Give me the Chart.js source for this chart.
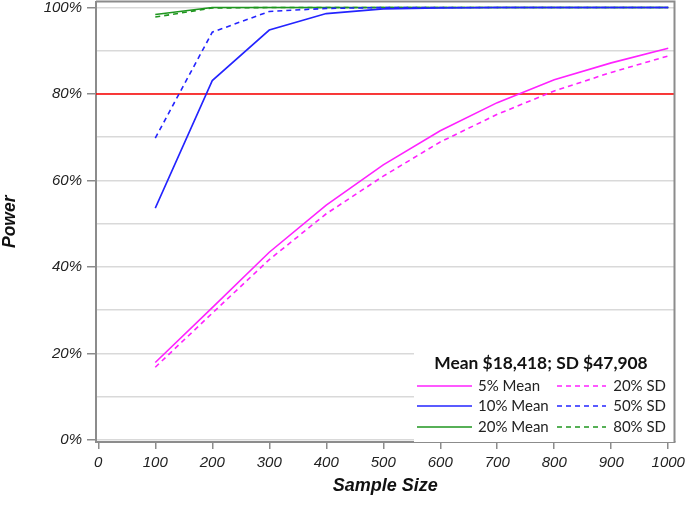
<!DOCTYPE html>
<html>
<head>
<meta charset="utf-8">
<script src="https://cdn.jsdelivr.net/npm/chart.js@4.4.1/dist/chart.umd.min.js"></script>
<style>
    html, body { margin: 0; padding: 0; background: #fff; }
    #wrap { width: 688px; height: 509px; }
</style>
</head>
<body>
<div id="wrap"><canvas id="powerChart" width="688" height="509"></canvas></div>
<script>
// 데이터
const sampleSizes = [100, 200, 300, 400, 500, 600, 700, 800, 900, 1000];
const mean5 = [17.9, 30.6, 43.4, 54.3, 63.6, 71.5, 78.0, 83.3, 87.2, 90.6];
const sd20 = [16.8, 29.3, 41.7, 52.3, 61.0, 68.9, 75.3, 80.7, 85.0, 88.8];
const mean10 = [53.6, 83.1, 94.8, 98.6, 99.7, 99.9, 100, 100, 100, 100];
const sd50 = [69.8, 94.3, 99.1, 99.8, 100, 100, 100, 100, 100, 100];
const mean20 = [98.4, 100, 100, 100, 100, 100, 100, 100, 100, 100];
const sd80 = [97.8, 99.9, 100, 100, 100, 100, 100, 100, 100, 100];
const xTickValues = [0, 100, 200, 300, 400, 500, 600, 700, 800, 900, 1000];
const yTickValues = [0, 10, 20, 30, 40, 50, 60, 70, 80, 90, 100];
const targetPower = 80;
const legendTitle = "Mean $18,418; SD $47,908";

function toPoints(ys) {
    return ys.map(function(y, i) { return {x: sampleSizes[i], y: y}; });
}

const MAGENTA = '#ff22ff', BLUE = '#2424ff', GREEN = '#1f961f';
const DASH = [5, 4];

function series(label, ys, color, dashed) {
    return {
        label: label,
        data: toPoints(ys),
        borderColor: color,
        backgroundColor: color,
        borderWidth: 1.6,
        borderDash: dashed ? DASH : [],
        pointRadius: 0,
        fill: false,
        tension: 0,
    };
}

// 목표 검정력 (80%) 빨간 선
const targetLine = {
    id: 'targetLine',
    beforeDatasetsDraw(chart) {
        const {ctx, chartArea, scales} = chart;
        const y = scales.y.getPixelForValue(targetPower);
        ctx.save();
        ctx.strokeStyle = '#ff0000';
        ctx.lineWidth = 1.6;
        ctx.beginPath();
        ctx.moveTo(chartArea.left, y);
        ctx.lineTo(chartArea.right, y);
        ctx.stroke();
        ctx.restore();
    }
};

// 범례 박스 (오른쪽 아래, 2열)
const insetLegend = {
    id: 'insetLegend',
    afterDatasetsDraw(chart) {
        const {ctx, chartArea} = chart;
        const ds = chart.data.datasets;
        const left = 414, top = 340;
        ctx.save();
        ctx.fillStyle = '#fff';
        ctx.fillRect(left, top, chartArea.right - left, chartArea.bottom - top);

        ctx.fillStyle = '#111';
        ctx.font = 'bold 17.4px Lato';
        ctx.textAlign = 'center';
        ctx.textBaseline = 'middle';
        ctx.fillText(legendTitle, 541, 363);

        ctx.font = '15px Lato';
        const rows = [386, 406, 427];
        for (let r = 0; r < 3; r++) {
            const solid = ds[r * 2], dashed = ds[r * 2 + 1];
            const y = rows[r];
            ctx.lineWidth = 1.6;

            ctx.strokeStyle = solid.borderColor;
            ctx.setLineDash([]);
            ctx.beginPath();
            ctx.moveTo(417, y); ctx.lineTo(472, y);
            ctx.stroke();
            ctx.textAlign = 'left';
            ctx.fillStyle = '#222';
            ctx.fillText(solid.label, 478, y);

            ctx.strokeStyle = dashed.borderColor;
            ctx.setLineDash(DASH);
            ctx.beginPath();
            ctx.moveTo(557, y); ctx.lineTo(606, y);
            ctx.stroke();
            ctx.textAlign = 'right';
            ctx.fillText(dashed.label, 666, y);
        }
        ctx.restore();
    }
};

// 위쪽/오른쪽 테두리
const frame = {
    id: 'frame',
    afterDraw(chart) {
        const {ctx, chartArea} = chart;
        ctx.save();
        ctx.strokeStyle = '#8c8c8c';
        ctx.lineWidth = 2;
        ctx.beginPath();
        ctx.moveTo(chartArea.left, chartArea.top);
        ctx.lineTo(chartArea.right, chartArea.top);
        ctx.lineTo(chartArea.right, chartArea.bottom);
        ctx.stroke();
        ctx.restore();
    }
};

const tickFont = {family: 'Liberation Sans', size: 15, style: 'italic'};

const ctx = document.getElementById('powerChart').getContext('2d');
const chart = new Chart(ctx, {
    type: 'line',
    data: {
        datasets: [
            series('5% Mean', mean5, MAGENTA, false),
            series('20% SD', sd20, MAGENTA, true),
            series('10% Mean', mean10, BLUE, false),
            series('50% SD', sd50, BLUE, true),
            series('20% Mean', mean20, GREEN, false),
            series('80% SD', sd80, GREEN, true),
        ]
    },
    options: {
        responsive: false,
        animation: false,
        layout: { padding: {top: 1.5, right: 13.5, left: 0, bottom: 0} },
        scales: {
            x: {
                type: 'linear',
                min: -4,
                max: 1011,
                afterBuildTicks: function(scale) {
                    scale.ticks = xTickValues.map(function(v) { return {value: v}; });
                },
                afterFit: function(scale) {
                    scale.height = 67;
                    scale.paddingLeft = 0;
                    scale.paddingRight = 0;
                },
                grid: {
                    drawOnChartArea: false,
                    color: '#8c8c8c',
                    tickLength: 7,
                    lineWidth: 1.5,
                },
                border: { color: '#8c8c8c', width: 2 },
                ticks: {
                    font: tickFont,
                    color: '#222',
                    padding: 5,
                    maxRotation: 0,
                    autoSkip: false,
                    callback: function(v) { return String(v); }
                },
                title: {
                    display: true,
                    text: 'Sample Size',
                    font: {family: 'Liberation Sans', size: 18, style: 'italic', weight: 'bold'},
                    color: '#111',
                    padding: {top: 4, bottom: 12},
                }
            },
            y: {
                min: -0.5,
                max: 101.4,
                afterBuildTicks: function(scale) {
                    scale.ticks = yTickValues.map(function(v) { return {value: v}; });
                },
                afterFit: function(scale) {
                    scale.width = 96;
                    scale.paddingTop = 0;
                    scale.paddingBottom = 0;
                },
                grid: {
                    color: '#d9d9d9',
                    lineWidth: 1.5,
                    tickLength: 9,
                    tickColor: function(c) {
                        return c.tick && c.tick.value % 20 === 0 ? '#8c8c8c' : 'rgba(0,0,0,0)';
                    },
                    tickWidth: 1.5,
                },
                border: { color: '#8c8c8c', width: 2 },
                ticks: {
                    font: tickFont,
                    color: '#222',
                    padding: 5,
                    autoSkip: false,
                    callback: function(v) { return v % 20 === 0 ? v + '%' : ''; }
                },
                title: {
                    display: true,
                    text: 'Power',
                    font: {family: 'Liberation Sans', size: 17.5, style: 'italic', weight: 'bold'},
                    color: '#111',
                    padding: {top: 0, bottom: 0},
                }
            }
        },
        plugins: {
            legend: { display: false },
            tooltip: { enabled: false },
        }
    },
    plugins: [targetLine, insetLegend, frame],
});
</script>
</body>
</html>
